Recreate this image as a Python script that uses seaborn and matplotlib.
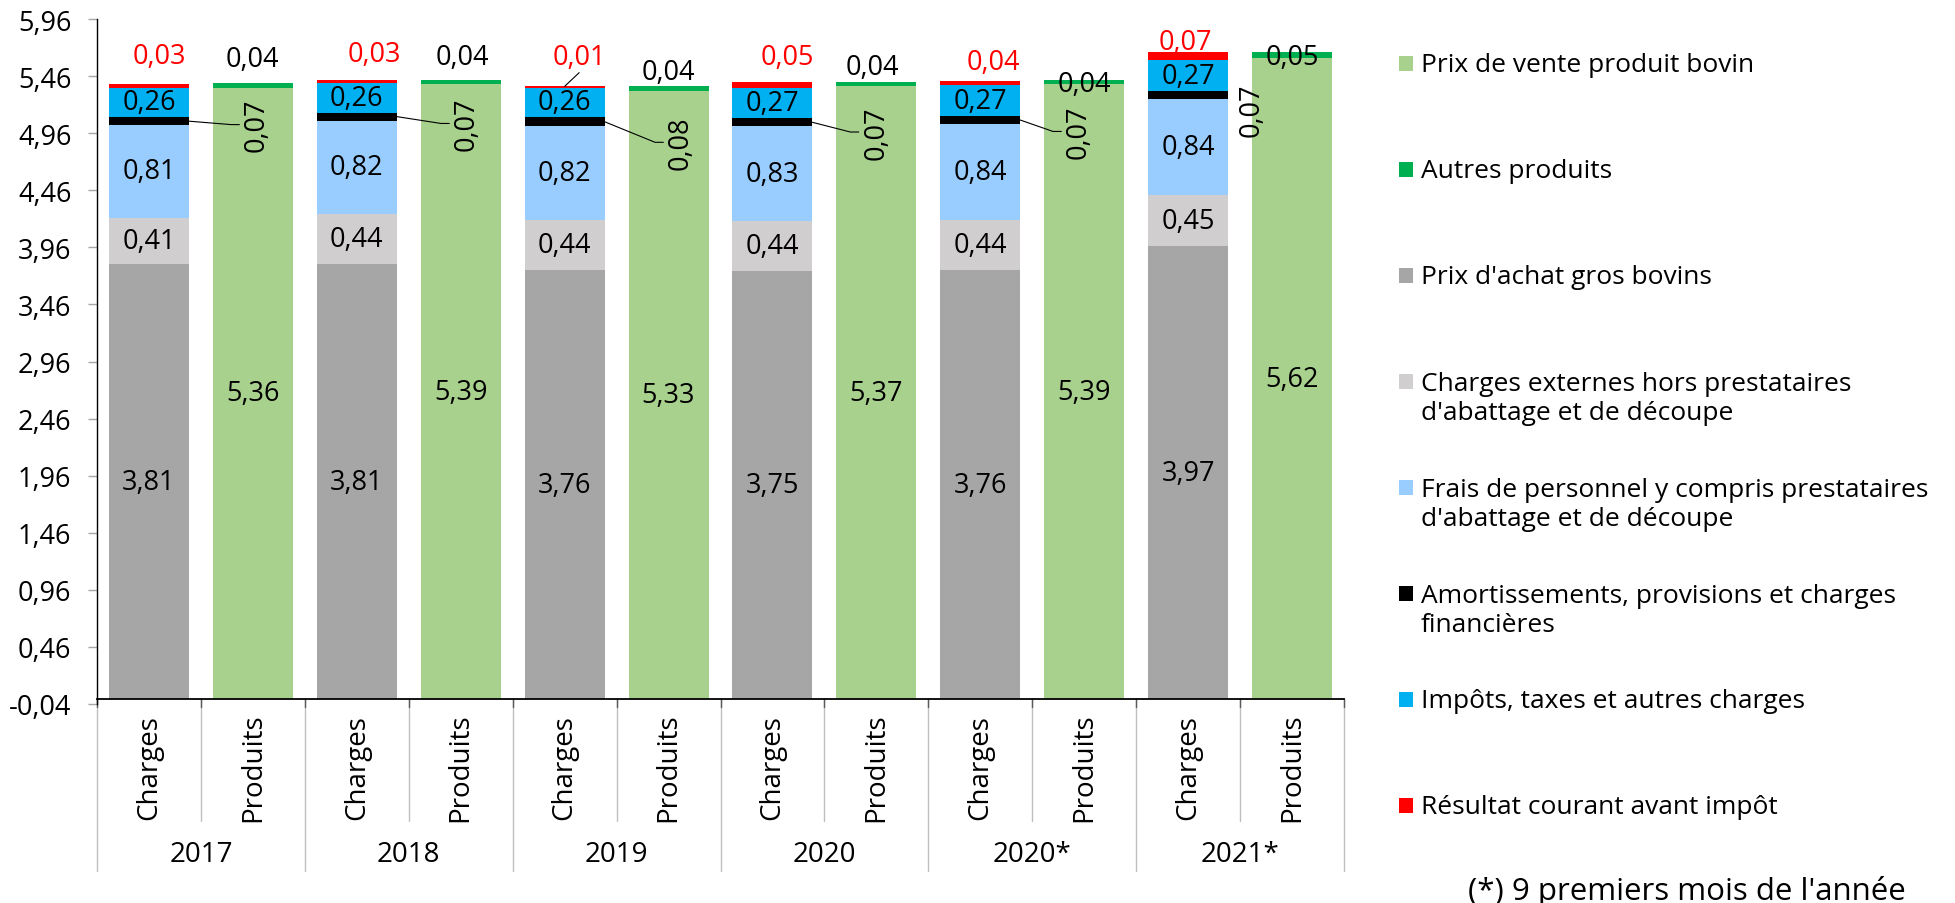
import numpy as np
import pandas as pd
import matplotlib
matplotlib.use("Agg")
import matplotlib.pyplot as plt
import seaborn as sns
from matplotlib.patches import Rectangle

# ---------------- data ----------------
years = ["2017", "2018", "2019", "2020", "2020*", "2021*"]
sides = ["Charges", "Produits"]

prix_achat = [3.81, 3.81, 3.76, 3.75, 3.76, 3.97]
charges_ext = [0.41, 0.44, 0.44, 0.44, 0.44, 0.45]
frais_perso = [0.81, 0.82, 0.82, 0.83, 0.84, 0.84]
amortissements = [0.07, 0.07, 0.08, 0.07, 0.07, 0.07]
impots = [0.26, 0.26, 0.26, 0.27, 0.27, 0.27]
resultat = [0.03, 0.03, 0.01, 0.05, 0.04, 0.07]
prix_vente = [5.36, 5.39, 5.33, 5.37, 5.39, 5.62]
autres_produits = [0.04, 0.04, 0.04, 0.04, 0.04, 0.05]

y_tick_values = [-0.04, 0.46, 0.96, 1.46, 1.96, 2.46, 2.96,
                 3.46, 3.96, 4.46, 4.96, 5.46, 5.96]

S_VENTE = "Prix de vente produit bovin"
S_AUTRES = "Autres produits"
S_ACHAT = "Prix d'achat gros bovins"
S_EXT = "Charges externes hors prestataires\nd'abattage et de découpe"
S_PERS = "Frais de personnel y compris prestataires\nd'abattage et de découpe"
S_AMORT = "Amortissements, provisions et charges\nfinancières"
S_IMP = "Impôts, taxes et autres charges"
S_RES = "Résultat courant avant impôt"
footnote = "(*) 9 premiers mois de l'année"

colors = {
    S_VENTE: "#A9D18E",
    S_AUTRES: "#00B050",
    S_ACHAT: "#A6A6A6",
    S_EXT: "#D0CECE",
    S_PERS: "#99CCFF",
    S_AMORT: "#000000",
    S_IMP: "#00B0F0",
    S_RES: "#FF0000",
}
legend_order = [S_VENTE, S_AUTRES, S_ACHAT, S_EXT, S_PERS, S_AMORT, S_IMP, S_RES]

charges_series = [(S_ACHAT, prix_achat), (S_EXT, charges_ext), (S_PERS, frais_perso),
                  (S_AMORT, amortissements), (S_IMP, impots), (S_RES, resultat)]
produits_series = [(S_VENTE, prix_vente), (S_AUTRES, autres_produits)]

# label placement tweaks (layout only)
res_dx = [0.10, 0.17, 0.14, 0.14, 0.13, -0.03]
res_dy = [0.25, 0.22, 0.26, 0.22, 0.16, 0.09]
aut_dx = [0.0, 0.02, 0.0, -0.04, 0.0, 0.0]
aut_dy = [0.21, 0.20, 0.13, 0.13, -0.04, -0.04]
am_dx = [0.04, 0.06, 0.12, 0.0, -0.05, -0.39]
am_dy = [-0.03, -0.06, -0.18, -0.085, -0.10, -0.125]
am_leader = [True, True, True, True, True, False]
res_leader = [False, False, True, False, False, False]

# ---------------- long dataframe ----------------
rows = []
for i, yr in enumerate(years):
    for name, vals in charges_series:
        rows.append({"pos": 2 * i, "serie": name, "val": vals[i]})
    for name, vals in produits_series:
        rows.append({"pos": 2 * i + 1, "serie": name, "val": vals[i]})
df = pd.DataFrame(rows)

# seaborn stacks the first hue level on top
stack_order = [S_RES, S_IMP, S_AMORT, S_PERS, S_EXT, S_ACHAT, S_AUTRES, S_VENTE]

sns.set_style("white")
plt.rcParams["font.family"] = ["Open Sans", "DejaVu Sans"]

W, H = 1955, 904
fig = plt.figure(figsize=(W / 100, H / 100), dpi=100)
ax = fig.add_axes([97 / W, (H - 705) / H, 1247 / W, 685 / H])

sns.histplot(data=df, x="pos", weights="val", hue="serie", hue_order=stack_order,
             multiple="stack", discrete=True, shrink=0.77, palette=colors,
             alpha=1, linewidth=0, legend=False, ax=ax)

ax.set_xlim(-0.5, 2 * len(years) - 0.5)
ax.set_ylim(y_tick_values[0], y_tick_values[-1])
ax.set_xlabel("")
ax.set_ylabel("")
ax.set_xticks([])
ax.set_yticks(y_tick_values)
ax.set_yticklabels([f"{v:.2f}".replace(".", ",") for v in y_tick_values])
ax.tick_params(axis="y", length=6.5, width=1, color="#A6A6A6", pad=12,
               labelsize=19.5, labelcolor="black", left=True)
ax.grid(False)
for s in ["top", "right"]:
    ax.spines[s].set_visible(False)
ax.spines["left"].set_color("black")
ax.spines["left"].set_linewidth(1.0)
ax.spines["bottom"].set_position(("data", 0))
ax.spines["bottom"].set_color("black")
ax.spines["bottom"].set_linewidth(1.3)

fmt = lambda v: f"{v:.2f}".replace(".", ",")
LBL = 19.5

ch_vals = np.array([v for _, v in charges_series], dtype=float)
ch_cum = np.cumsum(ch_vals, axis=0)
ch_center = ch_cum - ch_vals / 2
pr_vals = np.array([v for _, v in produits_series], dtype=float)
pr_cum = np.cumsum(pr_vals, axis=0)
pr_center = pr_cum - pr_vals / 2
half_bar = 0.77 / 2

for i in range(len(years)):
    xc, xp = 2 * i, 2 * i + 1
    for k in [0, 1, 2, 4]:
        ax.text(xc, ch_center[k, i], fmt(ch_vals[k, i]), ha="center", va="center",
                fontsize=LBL, color="black")
    ax.text(xp, pr_center[0, i], fmt(pr_vals[0, i]), ha="center", va="center",
            fontsize=LBL, color="black")
    top_c = ch_cum[-1, i]
    rx, ry = xc + res_dx[i], top_c + res_dy[i]
    ax.text(rx, ry, fmt(ch_vals[5, i]), ha="center", va="center",
            fontsize=LBL, color="#FF0000")
    if res_leader[i]:
        ax.plot([xc, rx], [top_c, ry - 0.14], color="black", lw=0.8)
    top_p = pr_cum[-1, i]
    ax.text(xp + aut_dx[i], top_p + aut_dy[i], fmt(pr_vals[1, i]), ha="center",
            va="center", fontsize=LBL, color="black")
    ay0 = ch_center[3, i]
    lx, ly = xp + am_dx[i], ay0 + am_dy[i]
    ax.text(lx, ly, fmt(ch_vals[3, i]), ha="center", va="center", rotation=90,
            fontsize=LBL, color="black", rotation_mode="anchor")
    if am_leader[i]:
        ax.plot([xc + half_bar, lx - 0.25, lx - 0.17], [ay0, ly, ly],
                color="black", lw=0.8)

# ---------------- two-level category axis ----------------
xt = ax.get_xaxis_transform()
ymin, ymax = ax.get_ylim()
y0 = (0 - ymin) / (ymax - ymin)
hpx = 685.0
inner_end = y0 - 122 / hpx
outer_end = y0 - 172 / hpx
tick_end = y0 - 8 / hpx
for i in range(len(years)):
    ax.plot([2 * i + 0.5] * 2, [y0, inner_end], transform=xt, clip_on=False,
            color="#BFBFBF", lw=1)
    ax.plot([2 * i + 0.5] * 2, [y0, tick_end], transform=xt, clip_on=False,
            color="#595959", lw=1)
for i in range(len(years) + 1):
    ax.plot([2 * i - 0.5] * 2, [y0, outer_end], transform=xt, clip_on=False,
            color="#BFBFBF", lw=1)
    ax.plot([2 * i - 0.5] * 2, [y0, tick_end], transform=xt, clip_on=False,
            color="#595959", lw=1)
for i, yr in enumerate(years):
    for j, sd in enumerate(sides):
        ax.text(2 * i + j, y0 - 67 / hpx, sd, transform=xt, rotation=90,
                ha="center", va="center", fontsize=20, color="black")
    ax.text(2 * i + 0.5, y0 - 155 / hpx, yr, transform=xt, ha="center",
            va="center", fontsize=20, color="black")

# ---------------- legend (manual, right side) ----------------
LINE_GAP = 30
for j, name in enumerate(legend_order):
    base_px = 72 + 106 * j
    nlines = name.count("\n") + 1
    fig.patches.append(Rectangle((1399 / W, 1 - base_px / H), 14 / W, 15 / H,
                                 transform=fig.transFigure, facecolor=colors[name],
                                 edgecolor="none"))
    fig.text(1421 / W, 1 - (base_px + LINE_GAP * (nlines - 1)) / H, name,
             ha="left", va="baseline", fontsize=19, linespacing=1.22,
             color="black")

# ---------------- footnote (sits at the bottom edge, as in the source) ----------------
fig.text(1468 / W, 4 / H, footnote, ha="left", va="baseline", fontsize=22.5,
         color="black")

fig.savefig("out.png", dpi=100)
